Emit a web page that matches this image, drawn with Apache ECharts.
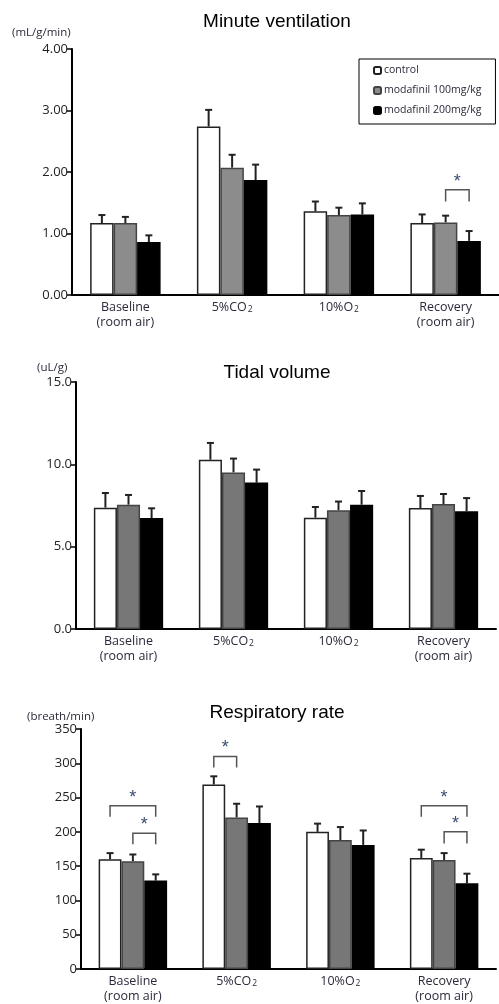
<!DOCTYPE html>
<html>
<head>
<meta charset="utf-8">
<script src="https://cdn.jsdelivr.net/npm/echarts@6/dist/echarts.min.js"></script>
<style>
  html, body { margin: 0; padding: 0; background: #fff; }
  #main { width: 499px; height: 1004px; }
</style>
</head>
<body>
<div id="main"></div>
<script>
// categories and groups
const categories = ['Baseline\n(room air)', '5%CO2', '10%O2', 'Recovery\n(room air)'];
const groups = ['control', 'modafinil 100mg/kg', 'modafinil 200mg/kg'];

// Minute ventilation (mL/g/min): mean and error (SEM)
const mvControl = [1.17, 2.74, 1.36, 1.17];
const mvControlErr = [0.13, 0.27, 0.16, 0.14];
const mv100 = [1.17, 2.07, 1.30, 1.18];
const mv100Err = [0.10, 0.21, 0.12, 0.11];
const mv200 = [0.86, 1.87, 1.31, 0.88];
const mv200Err = [0.11, 0.25, 0.18, 0.16];

// Tidal volume (uL/g)
const tvControl = [7.37, 10.28, 6.76, 7.35];
const tvControlErr = [0.89, 1.02, 0.65, 0.73];
const tv100 = [7.55, 9.51, 7.21, 7.59];
const tv100Err = [0.59, 0.84, 0.53, 0.61];
const tv200 = [6.74, 8.89, 7.55, 7.15];
const tv200Err = [0.59, 0.79, 0.83, 0.80];

// Respiratory rate (breath/min)
const rrControl = [160, 269, 200, 162];
const rrControlErr = [9, 12, 12, 12];
const rr100 = [157, 221, 188, 159];
const rr100Err = [10, 20, 19, 10];
const rr200 = [129, 213, 181, 125];
const rr200Err = [9, 24, 21, 14];

// significance brackets: [category, fromBar, toBar, bracketY, legY]
const mvBrackets = [[3, 1, 2, 1.71, 1.52]];
const tvBrackets = [];
const rrBrackets = [[0, 0, 2, 238, 222], [0, 1, 2, 198, 182], [1, 0, 1, 310, 294], [3, 0, 2, 238, 222], [3, 1, 2, 200, 183]];

// y axis ticks
const mvTicks = { max: 4, interval: 1, digits: 2 };
const tvTicks = { max: 15, interval: 5, digits: 1 };
const rrTicks = { max: 350, interval: 50, digits: 0 };

const GAP = 0.34;
const textColor = '#2a2a3a';
const starColor = '#3d4d70';

let chart = echarts.init(document.getElementById('main'));

function errorRender(pos) {
    return function (params, api) {
        let x = api.value(0);
        let p0 = api.coord([x, api.value(1)]);
        let p1 = api.coord([x, api.value(2)]);
        let band = api.size([1, 0])[0];
        let bw = band * (1 - GAP) / 3;
        let cx = p0[0] + (pos - 1) * bw;
        let st = { stroke: '#222', lineWidth: 2 };
        return {
            type: 'group',
            children: [
                { type: 'line', shape: { x1: cx, y1: p0[1], x2: cx, y2: p1[1] }, style: st },
                { type: 'line', shape: { x1: cx - 3.5, y1: p1[1], x2: cx + 3.5, y2: p1[1] }, style: st }
            ]
        };
    };
}

function bracketRender(params, api) {
    let c = api.value(0);
    let band = api.size([1, 0])[0];
    let bw = band * (1 - GAP) / 3;
    let top = api.coord([c, api.value(3)]);
    let leg = api.coord([c, api.value(4)]);
    let x1 = top[0] + (api.value(1) - 1) * bw;
    let x2 = top[0] + (api.value(2) - 1) * bw;
    return {
        type: 'group',
        children: [
            { type: 'polyline', shape: { points: [[x1, leg[1]], [x1, top[1]], [x2, top[1]], [x2, leg[1]]] },
              style: { stroke: '#555', lineWidth: 1.5, fill: null } },
            { type: 'text', x: (x1 + x2) / 2, y: top[1] - 8,
              style: { text: '*', fill: starColor, font: '18px "Liberation Sans"', align: 'center', verticalAlign: 'middle' } }
        ]
    };
}

function buildPanel(idx, vals, errs, brackets, grayColor) {
    let series = [];
    let fills = ['#ffffff', grayColor, '#000000'];
    let borders = ['#222', '#444', '#000'];
    for (let i = 0; i < 3; i++) {
        series.push({
            name: groups[i], type: 'bar', xAxisIndex: idx, yAxisIndex: idx,
            barGap: '0%', barCategoryGap: (GAP * 100) + '%',
            itemStyle: { color: fills[i], borderColor: borders[i], borderWidth: 1.5 },
            data: vals[i], z: 2, silent: true
        });
    }
    for (let i = 0; i < 3; i++) {
        series.push({
            type: 'custom', xAxisIndex: idx, yAxisIndex: idx, z: 1,
            renderItem: errorRender(i), encode: { x: 0, y: [1, 2] },
            data: vals[i].map((v, k) => [k, v, +(v + errs[i][k]).toFixed(3)])
        });
    }
    if (brackets.length) {
        series.push({
            type: 'custom', xAxisIndex: idx, yAxisIndex: idx, z: 3,
            renderItem: bracketRender, encode: { x: 0, y: [3, 4] },
            data: brackets
        });
    }
    return series;
}

function xAxisFor(idx) {
    return {
        type: 'category', gridIndex: idx, data: categories,
        axisLine: { lineStyle: { color: '#000', width: 2 } },
        axisTick: { length: 4, lineStyle: { color: '#000', width: 2 } },
        axisLabel: {
            color: textColor, fontSize: 12.5, fontFamily: 'Open Sans', lineHeight: 15, margin: 5,
            formatter: function (v) { return v.replace(/O2$/, 'O{s|2}'); },
            rich: { s: { fontSize: 8.5, color: textColor, fontFamily: 'Open Sans', padding: [4, 0, 0, 1] } }
        }
    };
}

function yAxisFor(idx, t) {
    return {
        type: 'value', gridIndex: idx, min: 0, max: t.max, interval: t.interval,
        splitLine: { show: false },
        axisLine: { show: true, lineStyle: { color: '#000', width: 2 } },
        axisTick: { show: true, length: 5, lineStyle: { color: '#000', width: 1.5 } },
        axisLabel: { color: '#222', fontSize: 13, fontFamily: 'Open Sans', margin: 4,
            formatter: function (v) { return v.toFixed(t.digits); } }
    };
}

let option = {
    animation: false,
    backgroundColor: '#fff',
    graphic: [
        { type: 'text', x: 277, y: 22, style: { text: 'Minute ventilation', font: '19px "Liberation Sans"', fill: '#000', align: 'center', verticalAlign: 'middle' } },
        { type: 'text', x: 277, y: 373, style: { text: 'Tidal volume', font: '19px "Liberation Sans"', fill: '#000', align: 'center', verticalAlign: 'middle' } },
        { type: 'text', x: 277, y: 713, style: { text: 'Respiratory rate', font: '19px "Liberation Sans"', fill: '#000', align: 'center', verticalAlign: 'middle' } },
        { type: 'text', x: 12, y: 33, style: { text: '(mL/g/min)', font: '11.5px "Open Sans"', fill: textColor, align: 'left', verticalAlign: 'middle' } },
        { type: 'text', x: 37, y: 368, style: { text: '(uL/g)', font: '11.5px "Open Sans"', fill: textColor, align: 'left', verticalAlign: 'middle' } },
        { type: 'text', x: 27, y: 717, style: { text: '(breath/min)', font: '11.5px "Open Sans"', fill: textColor, align: 'left', verticalAlign: 'middle' } }
    ],
    legend: {
        data: groups, orient: 'vertical', left: 359, top: 59,
        padding: [6, 14, 8, 14], itemGap: 9, itemWidth: 7, itemHeight: 7,
        borderColor: '#000', borderWidth: 1, selectedMode: false,
        textStyle: { fontSize: 10.5, color: textColor, fontFamily: 'Open Sans', padding: [0, 0, 0, -2] }
    },
    grid: [
        { left: 72, top: 49, width: 428, height: 246 },
        { left: 76, top: 382, width: 420, height: 247 },
        { left: 81, top: 729, width: 415, height: 245 }
    ],
    xAxis: [xAxisFor(0), xAxisFor(1), xAxisFor(2)],
    yAxis: [yAxisFor(0, mvTicks), yAxisFor(1, tvTicks), yAxisFor(2, rrTicks)],
    series: [].concat(
        buildPanel(0, [mvControl, mv100, mv200], [mvControlErr, mv100Err, mv200Err], mvBrackets, '#8c8c8c'),
        buildPanel(1, [tvControl, tv100, tv200], [tvControlErr, tv100Err, tv200Err], tvBrackets, '#777777'),
        buildPanel(2, [rrControl, rr100, rr200], [rrControlErr, rr100Err, rr200Err], rrBrackets, '#777777')
    )
};

chart.setOption(option);
</script>
</body>
</html>
